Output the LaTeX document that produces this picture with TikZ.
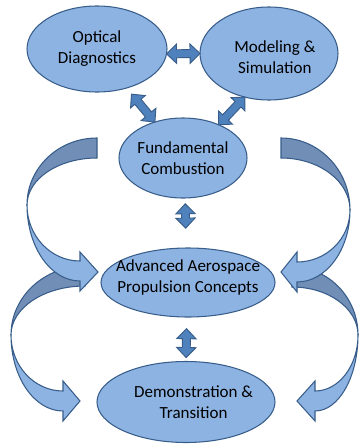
\documentclass[tikz,border=0pt]{standalone}
\usepackage{fontspec}
\setmainfont{Carlito}
\usetikzlibrary{shapes.geometric,calc}

\definecolor{bubblefill}{RGB}{141,179,226}
\definecolor{bubbleline}{RGB}{56,93,138}
\definecolor{backfill}{RGB}{112,142,182}
\definecolor{linkfill}{RGB}{79,129,189}

% block arrow with a head at both ends: from, to, gap at from, gap at to
\newcommand{\dblarrow}[4]{%
  \coordinate (dA) at ($(#1)!#3!(#2)$);
  \coordinate (dB) at ($(#2)!#4!(#1)$);
  \coordinate (hA) at ($(dA)!8.5pt!(dB)$);
  \coordinate (hB) at ($(dB)!8.5pt!(dA)$);
  \draw[dblarr] (dA) -- ($(hA)!8.2pt!90:(dB)$) -- ($(hA)!3.4pt!90:(dB)$)
    -- ($(hB)!3.4pt!-90:(dA)$) -- ($(hB)!8.2pt!-90:(dA)$) -- (dB)
    -- ($(hB)!8.2pt!90:(dA)$) -- ($(hB)!3.4pt!90:(dA)$)
    -- ($(hA)!3.4pt!-90:(dB)$) -- ($(hA)!8.2pt!-90:(dB)$) -- cycle;}

\begin{document}
\begin{tikzpicture}[x=0.03cm, y=-0.03cm, bubble/.style={ellipse, draw=bubbleline, fill=bubblefill, line width=0.9pt, inner sep=0pt, outer sep=0pt}, txt/.style={align=center, font=\fontsize{14.5}{18}\selectfont}, dblarr/.style={draw=bubbleline, fill=linkfill, line width=0.8pt}, bandback/.style={draw=bubbleline, fill=backfill, line width=0.9pt}, bandfront/.style={draw=bubbleline, fill=bubblefill, line width=0.9pt}]
\useasboundingbox (0,0) rectangle (360,445);
% lower curved arrows
\draw[bandback] (85,266) arc[start angle=90, end angle=180, x radius=2.22cm, y radius=2.07cm]
  arc[start angle=180, end angle=90, x radius=2.22cm, y radius=1.47cm] -- cycle;
\draw[bandfront] (11,335) arc[start angle=180, end angle=270, x radius=1.56cm, y radius=2.28cm]
  -- (63,421) -- (80,401) -- (63,381) -- (63,391)
  arc[start angle=270, end angle=180, x radius=1.56cm, y radius=1.68cm] -- cycle;
\draw[bandback] (292,267) arc[start angle=90, end angle=0, x radius=1.98cm, y radius=2.04cm]
  arc[start angle=0, end angle=90, x radius=1.98cm, y radius=1.44cm] -- cycle;
\draw[bandfront] (358,335) arc[start angle=0, end angle=-90, x radius=1.29cm, y radius=2.28cm]
  -- (315,421) -- (297,401) -- (315,381) -- (315,391)
  arc[start angle=-90, end angle=0, x radius=1.29cm, y radius=1.68cm] -- cycle;
% upper curved arrows
\draw[bandback] (97,138) arc[start angle=90, end angle=180, x radius=2.1cm, y radius=2.01cm]
  arc[start angle=180, end angle=90, x radius=2.1cm, y radius=1.41cm] -- cycle;
\draw[bandfront] (27,205) arc[start angle=180, end angle=270, x radius=1.59cm, y radius=2.28cm]
  -- (80,291) -- (98,272) -- (80,252) -- (80,261)
  arc[start angle=270, end angle=180, x radius=1.59cm, y radius=1.68cm] -- cycle;
\draw[bandback] (281,138) arc[start angle=90, end angle=0, x radius=2.07cm, y radius=2.16cm]
  arc[start angle=0, end angle=90, x radius=2.07cm, y radius=1.56cm] -- cycle;
\draw[bandfront] (350,210) arc[start angle=0, end angle=-90, x radius=1.59cm, y radius=2.16cm]
  -- (297,292) -- (281,272) -- (297,252) -- (297,262)
  arc[start angle=-90, end angle=0, x radius=1.59cm, y radius=1.56cm] -- cycle;
% ellipses
\node[bubble, minimum width=4.2cm, minimum height=2.58cm, label={[txt]center:Optical\\Diagnostics}] (od) at (97,49) {};
\node[bubble, minimum width=4.14cm, minimum height=2.79cm, label={[txt, xshift=5pt, yshift=-3pt]center:Modeling \&\\Simulation}] (ms) at (269,53.5) {};
\node[bubble, minimum width=3.84cm, minimum height=2.4cm, label={[txt]center:Fundamental\\Combustion}] (fc) at (183,158) {};
\node[bubble, minimum width=5.22cm, minimum height=2.07cm, label={[txt, yshift=4pt]center:Advanced Aerospace\\Propulsion Concepts}] (ap) at (188,282.5) {};
\node[bubble, minimum width=5.34cm, minimum height=2.43cm, label={[txt, xshift=6.5pt]center:Demonstration \&\\Transition}] (dt) at (186,402) {};
% two-way links
\dblarrow{od.-4}{ms.180}{0pt}{0pt}
\dblarrow{od.-53}{fc.128}{6.8pt}{0pt}
\dblarrow{ms.-119}{fc.43}{0pt}{0pt}
\dblarrow{fc.-87}{ap.93}{5pt}{17pt}
\dblarrow{ap.-92}{dt.90}{10pt}{3.4pt}
\end{tikzpicture}
\end{document}
